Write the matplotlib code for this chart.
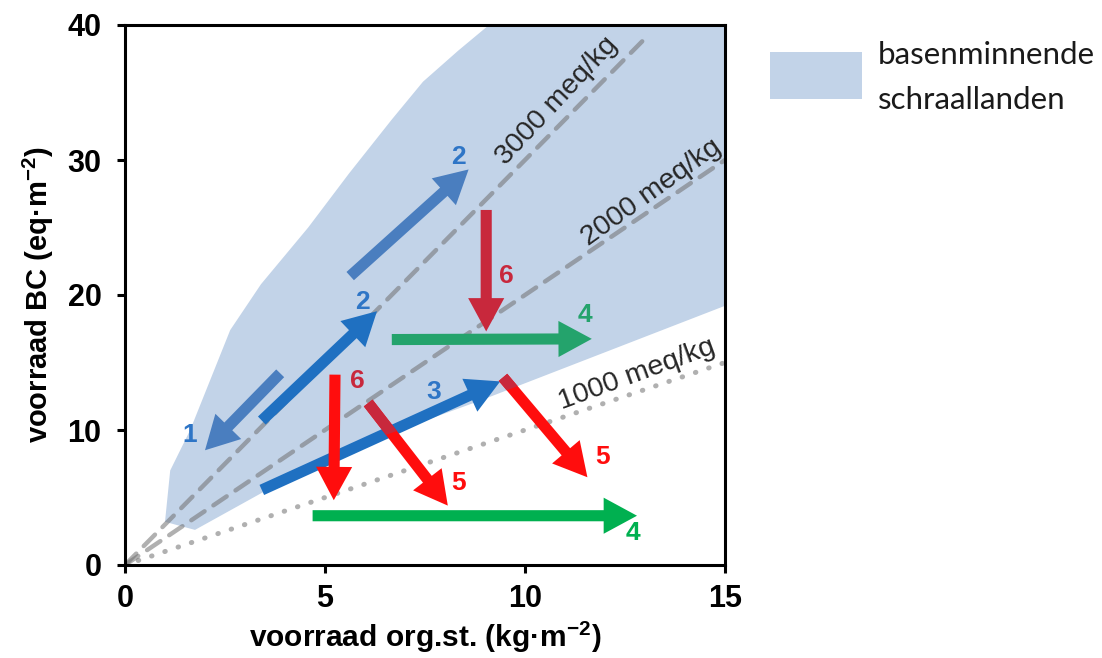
import numpy as np
import matplotlib
matplotlib.use("Agg")
import matplotlib.pyplot as plt
from matplotlib.patches import Polygon, FancyArrowPatch, Rectangle, ArrowStyle

plt.rcParams['font.family'] = ['Liberation Sans', 'DejaVu Sans']
plt.rcParams['mathtext.fontset'] = 'custom'
plt.rcParams['mathtext.rm'] = 'Liberation Sans'
plt.rcParams['mathtext.bf'] = 'Liberation Sans:bold'

# -----------------------------
# data
# -----------------------------
# outline of the "basenminnende schraallanden" area
shade_x = [1.0, 1.13, 1.63, 2.13, 2.63, 3.4, 4.58, 5.6, 6.67, 7.45, 8.33, 9.1, 15.0, 15.0, 8.9, 5.1, 1.75]
shade_y = [3.2, 7.0, 10.0, 13.7, 17.4, 20.8, 25.0, 29.0, 33.0, 35.8, 38.1, 40.0, 40.0, 19.2, 12.2, 8.1, 2.6]

# BC / org.st. ratio lines (eq per kg)
ratio_vals = [3.0, 2.0, 1.0]
ratio_xend = [13.0, 15.0, 15.0]
ratio_text = ['3000 meq/kg', '2000 meq/kg', '1000 meq/kg']
ratio_text_x = [10.8, 13.15, 12.8]
ratio_text_y = [34.4, 27.6, 14.1]

# arrows (start -> end)
arr_x0 = [5.63, 3.42, 3.88, 3.42, 9.03, 5.25, 6.08, 9.45, 6.67, 4.69]
arr_y0 = [21.4, 10.7, 14.2, 5.56, 26.3, 14.1, 12.0, 13.9, 16.7, 3.65]
arr_x1 = [8.59, 6.30, 2.00, 9.38, 9.03, 5.22, 8.07, 11.56, 11.67, 12.8]
arr_y1 = [29.3, 18.8, 8.5, 13.6, 17.3, 4.8, 4.4, 6.5, 16.75, 3.65]
arr_num = ['2', '2', '1', '3', '6', '6', '5', '5', '4', '4']
arr_col = ['#4a7ebf', '#1f70c1', '#4a7ebf', '#1f70c1', '#c8283c',
           '#ff0d0d', '#ff0d0d', '#ff0d0d', '#24a36c', '#00b050']
num_x = [8.33, 5.94, 1.61, 7.71, 9.53, 5.81, 8.33, 11.93, 11.5, 12.7]
num_y = [30.2, 19.5, 9.6, 12.8, 21.4, 13.6, 6.05, 8.0, 18.5, 2.35]
num_col = ['#2e75c6', '#2e75c6', '#2e75c6', '#2e75c6', '#c8283c',
           '#c8283c', '#ff0d0d', '#ff0d0d', '#24a36c', '#00b050']

shade_col = '#c2d3e8'
crimson = '#c8283c'

fig = plt.figure(figsize=(11.02, 6.58), dpi=100)
ax = fig.add_axes([125 / 1102, 93 / 658, 600 / 1102, 540 / 658])
ax.set_xlim(0, 15)
ax.set_ylim(0, 40)

shade = Polygon(list(zip(shade_x, shade_y)), closed=True, facecolor=shade_col,
                edgecolor='none', zorder=1)
ax.add_patch(shade)

styles = [(0, (3.6, 2.4)), (0, (3.6, 2.4)), (0, (0.1, 2.7))]
widths = [3.2, 3.2, 3.6]
for r, xe, ls, w in zip(ratio_vals, ratio_xend, styles, widths):
    ax.plot([0, xe], [0, r * xe], color='#707070', alpha=0.55, lw=w,
            linestyle=ls, dash_capstyle='round', solid_capstyle='round', zorder=2)

# label angle follows the line on screen (slightly steeper, as in the original)
for t, tx, ty, r in zip(ratio_text, ratio_text_x, ratio_text_y, ratio_vals):
    p0 = ax.transData.transform((0, 0))
    p1 = ax.transData.transform((10, 10 * r))
    ang = np.degrees(np.arctan2(p1[1] - p0[1], p1[0] - p0[0])) + 1.5
    ax.text(tx, ty, t, fontsize=20.5, color='#262626', ha='center', va='center',
            rotation=ang, rotation_mode='anchor', zorder=6)

style = ArrowStyle.Simple(head_length=2.4, head_width=2.6, tail_width=0.8)
for i in range(len(arr_x0)):
    a = FancyArrowPatch((arr_x0[i], arr_y0[i]), (arr_x1[i], arr_y1[i]),
                        arrowstyle=style, mutation_scale=10, shrinkA=0, shrinkB=0,
                        color=arr_col[i], lw=0, zorder=3 + i * 0.01)
    ax.add_patch(a)
    # part of the "5" arrows lying inside the shaded area is darker
    if arr_num[i] == '5':
        b = FancyArrowPatch((arr_x0[i], arr_y0[i]), (arr_x1[i], arr_y1[i]),
                            arrowstyle=style, mutation_scale=10, shrinkA=0, shrinkB=0,
                            color=crimson, lw=0, zorder=4)
        ax.add_patch(b)
        b.set_clip_path(shade)
    ax.text(num_x[i], num_y[i], arr_num[i], fontsize=19, fontweight='bold',
            color=num_col[i], ha='center', va='center', zorder=6,
            family=['Liberation Sans Narrow', 'Liberation Sans'])

ax.set_xticks([0, 5, 10, 15])
ax.set_yticks([0, 10, 20, 30, 40])
ax.tick_params(direction='out', length=6, width=2.2, labelsize=22)
ax.tick_params(axis='x', pad=8)
ax.tick_params(axis='y', pad=11)
for lab in ax.get_xticklabels() + ax.get_yticklabels():
    lab.set_fontweight('bold')
for sp in ax.spines.values():
    sp.set_linewidth(2.2)
ax.set_xlabel(r'voorraad org.st. (kg·m$^{\mathbf{-2}}$)', fontsize=21.5,
              fontweight='bold', labelpad=3)
ax.set_ylabel(r'voorraad BC (eq·m$^{\mathbf{-2}}$)', fontsize=21,
              fontweight='bold', labelpad=8)

# legend
fig.patches.append(Rectangle((770 / 1102, 1 - 99 / 658), 92 / 1102, 47 / 658,
                             transform=fig.transFigure, facecolor=shade_col,
                             edgecolor='none'))
fig.text(878 / 1102, 1 - 55 / 658, 'basenminnende', fontsize=22.5, va='center',
         family=['Lato', 'DejaVu Sans'], color='#1a1a1a')
fig.text(878 / 1102, 1 - 100 / 658, 'schraallanden', fontsize=22.5, va='center',
         family=['Lato', 'DejaVu Sans'], color='#1a1a1a')

fig.savefig('out.png', dpi=100)
